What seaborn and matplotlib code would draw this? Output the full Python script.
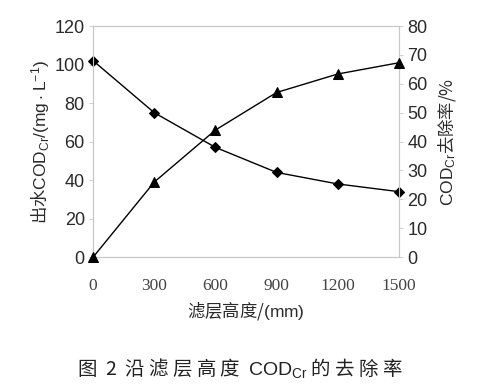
import pandas as pd
import matplotlib.pyplot as plt
import seaborn as sns

# filter layer height (mm)
heights = [0, 300, 600, 900, 1200, 1500]
# effluent COD_Cr (mg/L), left axis
effluent_cod = [102, 75, 57, 44, 38, 34]
# COD_Cr removal rate (%), right axis
removal_rate = [0, 26, 44, 57, 63.4, 67.3]

left_ticks = [0, 20, 40, 60, 80, 100, 120]
right_ticks = [0, 10, 20, 30, 40, 50, 60, 70, 80]

sns.set_style('white')
plt.rcParams['font.family'] = ['Noto Sans CJK SC', 'DejaVu Sans']
plt.rcParams['mathtext.fontset'] = 'custom'
plt.rcParams['mathtext.rm'] = 'Liberation Sans'
plt.rcParams['mathtext.default'] = 'rm'

df = pd.DataFrame({'h': heights, 'cod': effluent_cod, 'rate': removal_rate})

fig = plt.figure(figsize=(4.8, 3.89), dpi=100)
ax = fig.add_axes([0.194, 0.339, 0.637, 0.594])
ax2 = ax.twinx()

sns.lineplot(data=df, x='h', y='cod', ax=ax, color='black', lw=1,
             marker='D', markersize=5.5, markeredgecolor='black', clip_on=False, zorder=5)
sns.lineplot(data=df, x='h', y='rate', ax=ax2, color='black', lw=1,
             marker='^', markersize=7, markeredgecolor='black', clip_on=False, zorder=5)

ax.set_xlim(0, 1500)
ax.set_ylim(0, 120)
ax2.set_ylim(0, 80)
ax.set_xticks(heights)
ax.set_yticks(left_ticks)
ax2.set_yticks(right_ticks)

tick_col = '#2a2a2a'
ax.set_xticklabels([str(h) for h in heights], family='Liberation Serif', fontsize=12.5, color='#444444')
ax.set_yticklabels([str(t) for t in left_ticks], family='Liberation Sans', fontsize=13, color=tick_col)
ax2.set_yticklabels([str(t) for t in right_ticks], family='Liberation Sans', fontsize=13, color=tick_col)

for a in (ax, ax2):
    for s in a.spines.values():
        s.set_color('#c8c8c8')
        s.set_linewidth(0.8)
    a.tick_params(axis='both', length=3, width=0.6, color='#c8c8c8', pad=3)
    a.grid(False)
ax.tick_params(axis='x', length=0, pad=15)

ax.set_xlabel('滤层高度/$\\mathrm{(mm)}$', fontsize=12.5, color=tick_col, labelpad=4)
ax.set_ylabel('出水$\\mathrm{COD_{Cr}/(mg\\cdot L^{-1})}$', fontsize=12.5, color=tick_col, labelpad=2)
ax2.set_ylabel('$\\mathrm{COD_{Cr}}$去除率/%', fontsize=12.5, color=tick_col, labelpad=6,
               rotation=90)

fig.text(0.5, 0.054, '图  2  沿 滤 层 高 度  $\\mathrm{COD_{Cr}}$ 的 去 除 率', ha='center', va='center',
         fontsize=14, color='#222222')

plt.savefig('out.png', dpi=100)
